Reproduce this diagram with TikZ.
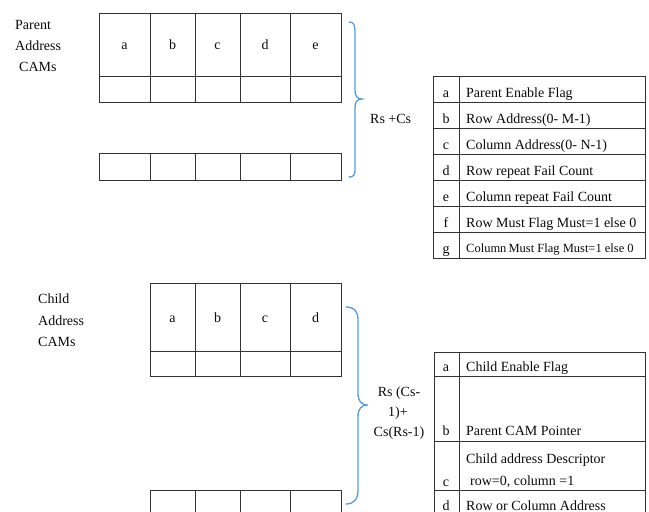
\documentclass[tikz,border=0pt]{standalone}
\usepackage{fontspec}
\setmainfont{Liberation Serif}
\definecolor{bracecol}{RGB}{91,155,213}
\definecolor{inkcol}{RGB}{10,10,10}
\begin{document}
\begin{tikzpicture}[x=1pt,y=-1pt,
  grid/.style={draw=black!80,line width=1pt},
  lbl/.style={inner sep=0pt,anchor=base west,text=inkcol,font=\fontsize{14}{16}\selectfont},
  lblc/.style={inner sep=0pt,anchor=base,text=inkcol,font=\fontsize{14}{16}\selectfont},
  small/.style={inner sep=0pt,anchor=base west,text=inkcol,font=\fontsize{12.5}{14}\selectfont},
  bracestyle/.style={draw=bracecol,line width=1.3pt,line cap=round}]
\useasboundingbox (0,0) rectangle (649,512);

% ---------- Parent labels ----------
\node[lbl] (plab1) at (15,29) {Parent};
\node[lbl] (plab2) at (15,50) {Address};
\node[lbl] (plab3) at (19,71) {CAMs};

% ---------- Parent table ----------
\draw[grid] (99,13) rectangle (341,102);
\draw[grid] (99,76) -- (341,76);
\foreach \x in {150,195,240,290} \draw[grid] (\x,13) -- (\x,102);
\draw[grid] (99,153) rectangle (341,180);
\foreach \x in {150,195,240,290} \draw[grid] (\x,153) -- (\x,180);
\node[lblc] (pa) at (124.5,49) {a};
\node[lblc] (pb) at (172.5,49) {b};
\node[lblc] (pc) at (217.5,49) {c};
\node[lblc] (pd) at (265,49) {d};
\node[lblc] (pe) at (315.5,49) {e};

% ---------- Parent brace ----------
\draw[bracestyle] (349,22) .. controls (354,22) and (355,25) .. (355,32) -- (355,90)
  .. controls (355,96) and (357,99) .. (362,99)
  .. controls (357,99) and (355,102) .. (355,108) -- (355,168)
  .. controls (355,175) and (354,177) .. (349,177);
\node[lbl] (rscs) at (370,123) {Rs +Cs};

% ---------- Parent field table ----------
\draw[grid] (433,76) rectangle (645,258);
\draw[grid] (459,76) -- (459,258);
\foreach \y in {102,128,154,180,206,232} \draw[grid] (433,\y) -- (645,\y);
\node[lblc] (ka) at (446,97) {a};
\node[lblc] (kb) at (446,123) {b};
\node[lblc] (kc) at (446,149) {c};
\node[lblc] (kd) at (446,175) {d};
\node[lblc] (ke) at (446,201) {e};
\node[lblc] (kf) at (446,227) {f};
\node[lblc] (kg) at (446,253) {g};
\node[lbl] (ta) at (466,97) {Parent Enable Flag};
\node[lbl] (tb) at (466,123) {Row Address(0- M-1)};
\node[lbl] (tc) at (466,149) {Column Address(0- N-1)};
\node[lbl] (td) at (466,175) {Row repeat Fail Count};
\node[lbl] (te) at (466,201) {Column repeat Fail Count};
\node[lbl] (tf) at (466,227) {Row Must Flag Must=1 else 0};
\node[small] (tg) at (466,252) {Column\kern-1pt\ Must Flag Must=1 else 0};

% ---------- Child labels ----------
\node[lbl] (clab1) at (38,303) {Child};
\node[lbl] (clab2) at (38,325) {Address};
\node[lbl] (clab3) at (38,346) {CAMs};

% ---------- Child table ----------
\draw[grid] (150,283) rectangle (341,376);
\draw[grid] (150,351) -- (341,351);
\foreach \x in {195,240,290} \draw[grid] (\x,283) -- (\x,376);
\draw[grid] (150,513) |- (341,490) -- (341,513);
\foreach \x in {195,240,290} \draw[grid] (\x,490) -- (\x,513);
\node[lblc] (ca) at (172.5,322) {a};
\node[lblc] (cb) at (217.5,322) {b};
\node[lblc] (cc) at (265,322) {c};
\node[lblc] (cd) at (315.5,322) {d};

% ---------- Child brace ----------
\draw[bracestyle] (346,307) .. controls (354,307) and (358,311) .. (358,320) -- (358,393)
  .. controls (358,401) and (361,405) .. (368,405)
  .. controls (361,405) and (358,409) .. (358,417) -- (358,490)
  .. controls (358,499) and (354,504) .. (346,504);
\node[lblc] (f1) at (399,396) {Rs (Cs-};
\node[lblc] (f2) at (398,416) {1)+};
\node[lblc] (f3) at (399,436) {Cs(Rs-1)};

% ---------- Child field table ----------
\draw[grid] (434,513) |- (645,352) -- (645,513);
\draw[grid] (459,352) -- (459,513);
\foreach \y in {376,441,490} \draw[grid] (434,\y) -- (645,\y);
\node[lblc] (ja) at (446,371) {a};
\node[lblc] (jb) at (446,435) {b};
\node[lblc] (jc) at (446,486) {c};
\node[lblc] (jd) at (446,510) {d};
\node[lbl] (sa) at (466,371) {Child Enable Flag};
\node[lbl] (sb) at (466,435) {Parent CAM Pointer};
\node[lbl] (sc1) at (466,463) {Child address Descriptor};
\node[lbl] (sc2) at (470,485) {row=0, column =1};
\node[lbl] (sd) at (466,510) {Row or Column Address};
\end{tikzpicture}
\end{document}
